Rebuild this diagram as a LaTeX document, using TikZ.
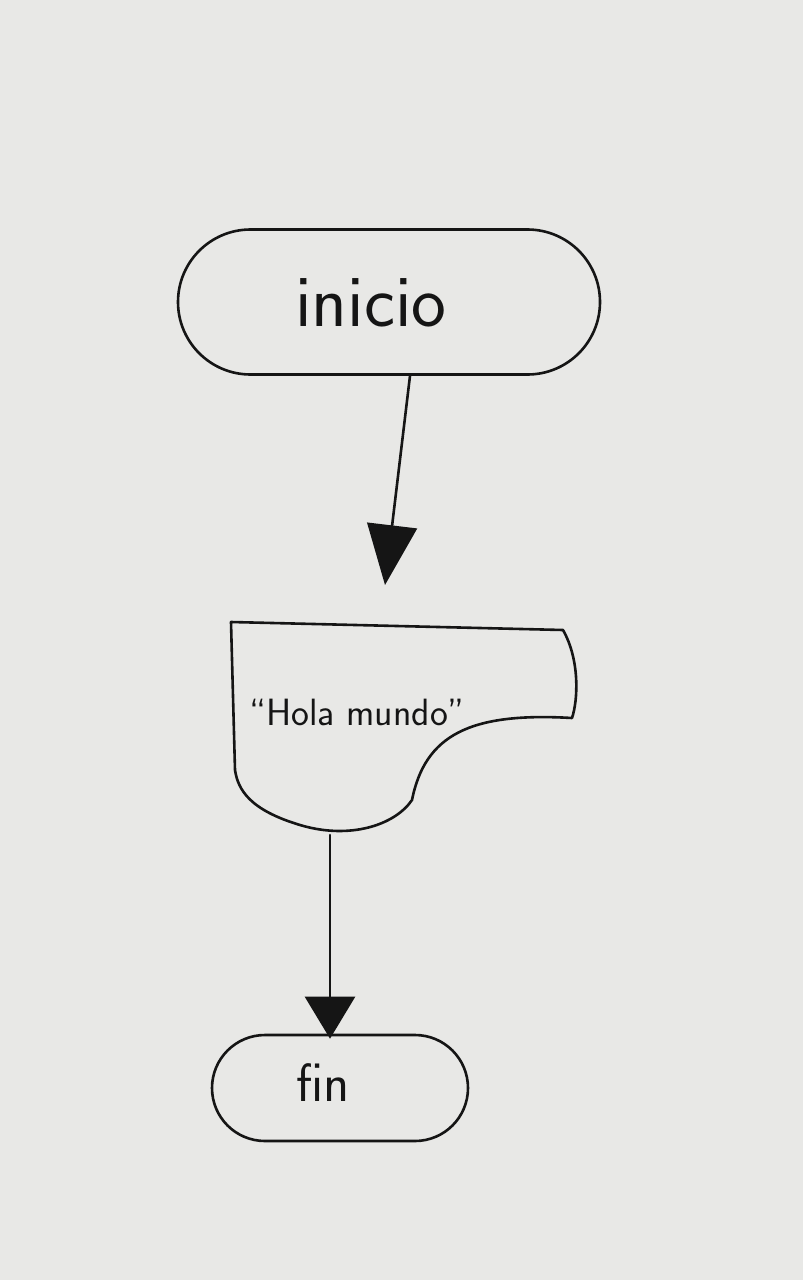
\documentclass[tikz,border=0pt]{standalone}
\usetikzlibrary{arrows.meta,shapes.misc}
\definecolor{paper}{HTML}{E8E8E6}
\definecolor{ink}{HTML}{151515}
\begin{document}
\begin{tikzpicture}[x=1pt,y=-1pt,
  line/.style={draw=ink,line width=2.6pt,line cap=round,line join=round},
  term/.style={line,rounded rectangle,inner sep=0pt},
  conn/.style={line,-{Triangle[length=#1,width=50pt]}},
  lbl/.style={font=\sffamily,text=ink}]
\fill[paper] (0,0) rectangle (803,1280);
\useasboundingbox (0,0) rectangle (803,1280);
% start
\node[term,minimum width=422pt,minimum height=145pt] (inicio) at (389,302) {};
\node[lbl,font=\sffamily\fontsize{74}{84}\selectfont] (tinicio) at (371,303) {inicio};
% output shape
\draw[line] (231,622) -- (563,630)
  .. controls (580,660) and (578,700) .. (572,718)
  .. controls (470,712) and (425,735) .. (412,800)
  .. controls (395,825) and (350,840) .. (300,825)
  .. controls (250,810) and (238,790) .. (235,770) -- cycle;
\node[lbl,font=\sffamily\fontsize{38}{44}\selectfont] (out) at (357,712) {``Hola mundo''};
\coordinate (outtop) at (385,585);
\coordinate (outbot) at (330,835);
% end
\node[term,minimum width=256pt,minimum height=106pt] (fin) at (340,1088) {};
\node[lbl,font=\sffamily\fontsize{54}{62}\selectfont] (tfin) at (323,1083) {fin};
% connectors
\draw[conn=60pt] ([xshift=21pt]inicio.south) -- (outtop);
\draw[conn=42pt] (outbot) -- ([xshift=-10pt,yshift=-5pt]fin.north);
\end{tikzpicture}
\end{document}
